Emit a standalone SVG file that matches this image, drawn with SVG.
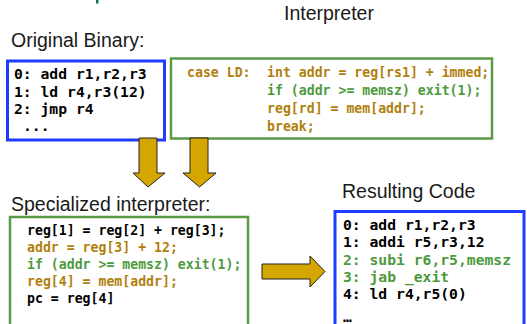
<svg xmlns="http://www.w3.org/2000/svg" width="527" height="324" viewBox="0 0 527 324">
  <style>
    .title { font-family: "Liberation Sans", Arial, sans-serif; font-size: 19.5px; fill: #1a1a1a; }
    .code { font-family: "DejaVu Sans Mono", "Liberation Mono", monospace; font-weight: bold; }
    .big { font-size: 14.7px; }
    .small { font-size: 13.2px; }
    .k { fill: #000; }
    .gold { fill: #b0800c; }
    .grn { fill: #4d9a3d; }
    .blueBox { fill: #fff; stroke: #1e3cff; stroke-width: 3; }
    .greenBox { fill: #fff; stroke: #5a9a46; stroke-width: 2.5; }
    .arrow { fill: #d6a600; stroke: #222; stroke-width: 1; stroke-linejoin: miter; }
  </style>

  <rect width="527" height="324" fill="#fff"/>
  <rect x="96" y="0" width="2.5" height="3.5" fill="#0a7a40"/>

  <text class="title" x="284" y="20">Interpreter</text>
  <text class="title" x="11" y="47">Original Binary:</text>
  <text class="title" x="11" y="211">Specialized interpreter:</text>
  <text class="title" x="342" y="198">Resulting Code</text>

  <g id="original-binary">
    <rect class="blueBox" x="7.5" y="61" width="157" height="79"/>
    <text class="code big k" x="14" y="79">0: add r1,r2,r3</text>
    <text class="code big k" x="14" y="96.5">1: ld r4,r3(12)</text>
    <text class="code big k" x="14" y="114">2: jmp r4</text>
    <text class="code big k" x="23" y="131">...</text>
  </g>

  <g id="interpreter">
    <rect class="greenBox" x="171" y="58.5" width="321" height="80"/>
    <text class="code small gold" x="187" y="77">case LD:</text>
    <text class="code small gold" x="267" y="77">int addr = reg[rs1] + immed;</text>
    <text class="code small grn" x="267" y="95">if (addr &gt;= memsz) exit(1);</text>
    <text class="code small gold" x="267" y="113">reg[rd] = mem[addr];</text>
    <text class="code small gold" x="267" y="131">break;</text>
  </g>

  <g id="specialized-interpreter">
    <rect class="greenBox" x="10" y="217" width="238" height="120"/>
    <text class="code small k" x="27" y="235">reg[1] = reg[2] + reg[3];</text>
    <text class="code small gold" x="27" y="252">addr = reg[3] + 12;</text>
    <text class="code small grn" x="27" y="269">if (addr &gt;= memsz) exit(1);</text>
    <text class="code small gold" x="27" y="286">reg[4] = mem[addr];</text>
    <text class="code small k" x="27" y="303">pc = reg[4]</text>
  </g>

  <g id="resulting-code">
    <rect class="blueBox" x="335" y="211.5" width="189" height="130"/>
    <text class="code big k" x="343" y="230">0: add r1,r2,r3</text>
    <text class="code big k" x="343" y="247">1: addi r5,r3,12</text>
    <text class="code big grn" x="343" y="264.5">2: subi r6,r5,memsz</text>
    <text class="code big grn" x="343" y="282">3: jab _exit</text>
    <text class="code big k" x="343" y="299">4: ld r4,r5(0)</text>
    <text class="code big k" x="343" y="322">…</text>
  </g>

  <g id="connectors">
    <polygon class="arrow" points="139,138 157,138 157,173 165,173 148,187 133,173 139,173"/>
    <polygon class="arrow" points="190,138 208,138 208,173 216,173 199.5,187 183,173 190,173"/>
    <polygon class="arrow" points="262,264 310,264 310,256 325,271.5 310,287 310,279 262,279"/>
  </g>
</svg>
